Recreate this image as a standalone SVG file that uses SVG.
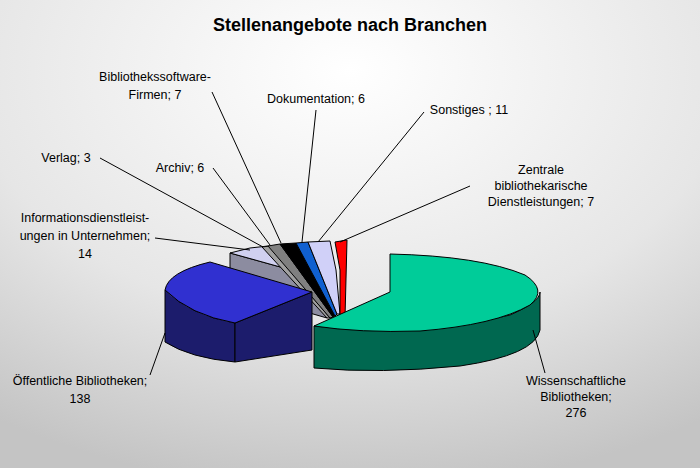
<svg xmlns="http://www.w3.org/2000/svg" width="700" height="468" viewBox="0 0 700 468">
<defs>
<radialGradient id="bg" cx="0.5" cy="0.15" r="0.9">
<stop offset="0" stop-color="#ffffff"/><stop offset="0.6" stop-color="#e6e6e6"/><stop offset="1" stop-color="#c4c4c4"/>
</radialGradient>
</defs>
<style>
text{font-family:"Liberation Sans",Arial,sans-serif;font-size:12.5px;fill:#000}
.t{font-size:18px;font-weight:bold}
.e{stroke:#000;stroke-width:1;stroke-linejoin:round}
.l{stroke:#000;stroke-width:1;fill:none}
</style>
<rect width="700" height="468" fill="url(#bg)"/>
<text class="t" x="350" y="31" text-anchor="middle">Stellenangebote nach Branchen</text>
<g id="pie">
<g id="s-info"><polygon class="e" fill="#8c8ca0" points="230,253 327,280 327,318 230,290"/><polygon class="e" fill="#d0d0f0" points="230,253 250,248 268,246 327,280"/></g>
<g id="s-verlag"><polygon class="e" fill="#a0a0a0" points="262,247 270,246 330,318 327,318"/></g>
<g id="s-archiv"><polygon class="e" fill="#808080" points="268,246 280,244 333,317 330,318"/></g>
<g id="s-software"><polygon class="e" fill="#000" points="280,244 296,243 335,316 333,317"/></g>
<g id="s-doku"><polygon class="e" fill="#1060d0" points="296,243 308,242 337,314 335,316"/></g>
<g id="s-sonst"><polygon class="e" fill="#d0d0f8" points="308,242 330,241 336,270 340,314 337,314"/></g>
<g id="s-zentral"><polygon class="e" fill="#ff0000" points="335,242 347,240 345,318 340,318 340,270"/></g>
<g id="s-oeff">
<path class="e" fill="#1c1c6c" d="M165,290 L165,342 Q190,358 235,362 L235,323 Q190,315 165,290 Z"/>
<polygon class="e" fill="#1c1c6c" points="235,323 312,292 312,350 235,362"/>
<path class="e" fill="#3030d0" d="M165,290 Q168,272 210,262 L312,292 L235,323 Q190,315 165,290 Z"/>
</g>
<g id="s-wiss">
<path class="e" fill="#006850" d="M314,326 Q420,338 510,315 Q540,302 540,292 L540,330 Q535,355 460,366 Q380,374 314,368 Z"/>
<path class="e" fill="#00cc99" d="M314,326 L390,292 L390,254 Q480,256 525,275 Q548,290 530,305 Q495,325 420,331 Q360,333 314,326 Z"/>
</g>
</g>
<g id="connectors">
<line class="l" x1="212" y1="92" x2="281" y2="243"/>
<line class="l" x1="316" y1="110" x2="302" y2="242"/>
<line class="l" x1="424" y1="112" x2="318" y2="242"/>
<line class="l" x1="470" y1="186" x2="340" y2="242"/>
<line class="l" x1="100" y1="158" x2="263" y2="247"/>
<line class="l" x1="213" y1="168" x2="270" y2="245"/>
<line class="l" x1="155" y1="238" x2="250" y2="250"/>
<line class="l" x1="150" y1="375" x2="165" y2="333"/>
<line class="l" x1="545" y1="373" x2="533" y2="330"/>
</g>
<g id="labels">
<text x="155" y="81" text-anchor="middle">Bibliothekssoftware-</text>
<text x="155" y="99" text-anchor="middle">Firmen; 7</text>
<text x="316" y="103" text-anchor="middle">Dokumentation; 6</text>
<text x="469" y="114" text-anchor="middle">Sonstiges ; 11</text>
<text x="541" y="174" text-anchor="middle">Zentrale</text>
<text x="541" y="190" text-anchor="middle">bibliothekarische</text>
<text x="541" y="206" text-anchor="middle">Dienstleistungen; 7</text>
<text x="66" y="162" text-anchor="middle">Verlag; 3</text>
<text x="180" y="172" text-anchor="middle">Archiv; 6</text>
<text x="85" y="222" text-anchor="middle">Informationsdienstleist-</text>
<text x="85" y="240" text-anchor="middle">ungen in Unternehmen;</text>
<text x="85" y="258" text-anchor="middle">14</text>
<text x="80" y="385" text-anchor="middle">Öffentliche Bibliotheken;</text>
<text x="80" y="403" text-anchor="middle">138</text>
<text x="576" y="385" text-anchor="middle">Wissenschaftliche</text>
<text x="576" y="401" text-anchor="middle">Bibliotheken;</text>
<text x="576" y="417" text-anchor="middle">276</text>
</g>
</svg>
